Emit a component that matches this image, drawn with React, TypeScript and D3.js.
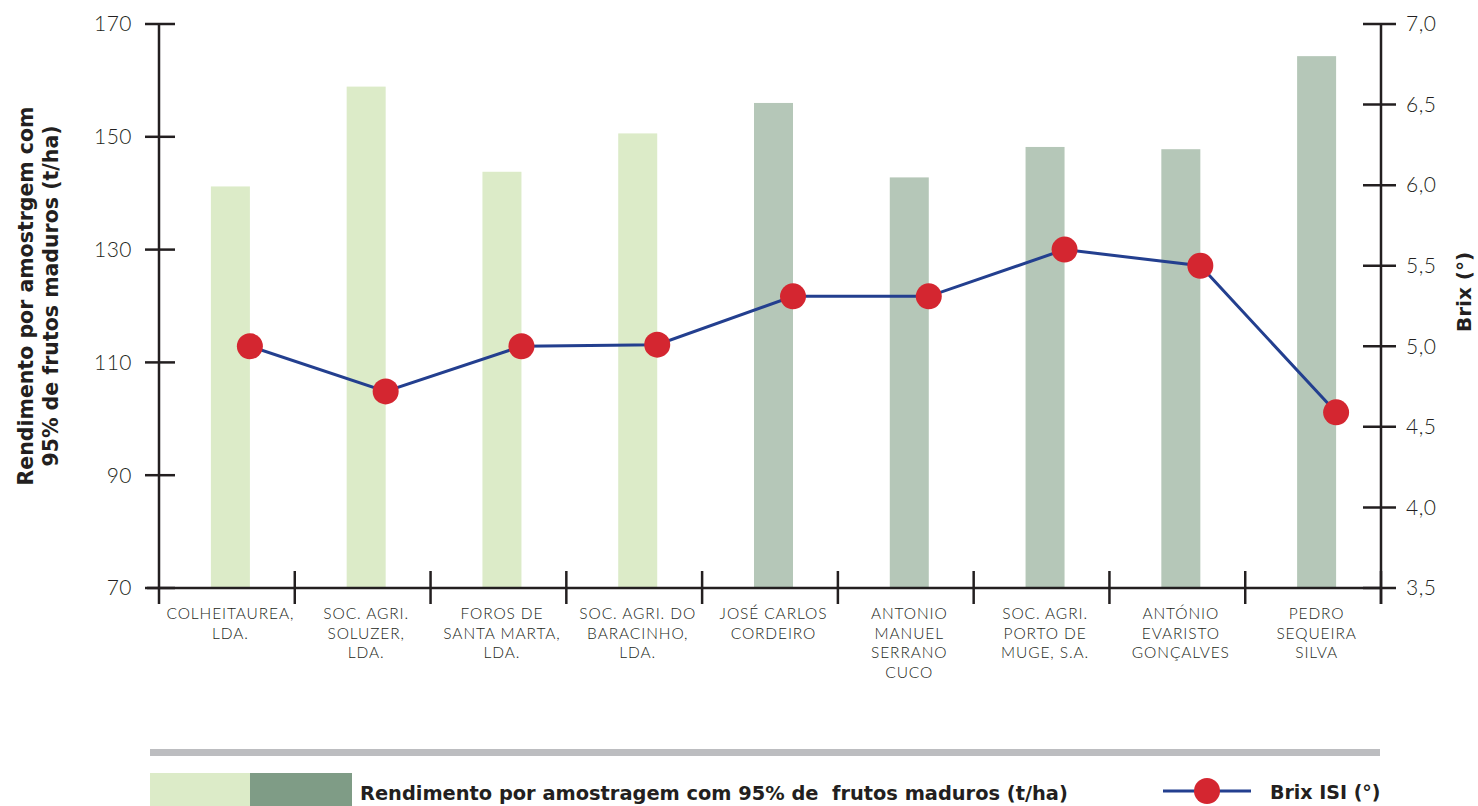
import * as d3 from "d3";
import { useEffect } from "react";

// categories (line-broken labels as in the source)
const categories: string[][] = [
    ["COLHEITAUREA,", "LDA."],
    ["SOC. AGRI.", "SOLUZER,", "LDA."],
    ["FOROS DE", "SANTA MARTA,", "LDA."],
    ["SOC. AGRI. DO", "BARACINHO,", "LDA."],
    ["JOSÉ CARLOS", "CORDEIRO"],
    ["ANTONIO", "MANUEL", "SERRANO", "CUCO"],
    ["SOC. AGRI.", "PORTO DE", "MUGE, S.A."],
    ["ANTÓNIO", "EVARISTO", "GONÇALVES"],
    ["PEDRO", "SEQUEIRA", "SILVA"],
];
const rendimento = [141.2, 158.9, 143.8, 150.6, 156.0, 142.8, 148.2, 147.8, 164.3];
const brix = [5.0, 4.72, 5.0, 5.01, 5.31, 5.31, 5.6, 5.5, 4.59];
const group = [0, 0, 0, 0, 1, 1, 1, 1, 1];
const leftTicks = [70, 90, 110, 130, 150, 170];
const rightTicks = [3.5, 4.0, 4.5, 5.0, 5.5, 6.0, 6.5, 7.0];

const barColors = ["#dcebc8", "#b5c7b8"];
const legendColors = ["#dcebc8", "#7f9c86"];
const ink = "#231f20";
const font = "Lato, 'Noto Sans', sans-serif";
const boldFont = "'DejaVu Sans', 'Noto Sans', sans-serif";

function App() {
    useEffect(() => {
        document.body.style.margin = "0";
    }, []);

    const width = 1478;
    const height = 806;
    const left = 159, right = 1381, top = 24, bottom = 588;

    const x = d3.scaleBand<number>().domain(d3.range(categories.length)).range([left, right]);
    const yL = d3.scaleLinear().domain([70, 170]).range([bottom, top]);
    const yR = d3.scaleLinear().domain([3.5, 7.0]).range([bottom, top]);
    const bw = 39;
    const barX = (i: number) => (x(i) as number) + x.bandwidth() / 2 - 16;
    const ptX = (i: number) => barX(i) + bw;

    const line = d3.line<number>().x((_, i) => ptX(i)).y(d => yR(d));
    const boundaries = d3.range(categories.length + 1).map(i => left + i * x.bandwidth());

    return (
        <svg width={width} height={height} style={{ display: "block", background: "#fff" }} fontFamily={font}>
            {/* bars */}
            {rendimento.map((v, i) => (
                <rect key={i} x={barX(i)} y={yL(v)} width={bw} height={bottom - yL(v)} fill={barColors[group[i]]} />
            ))}

            {/* left axis */}
            <line x1={left} x2={left} y1={top} y2={bottom + 16} stroke={ink} strokeWidth={2.5} />
            {leftTicks.map(t => (
                <g key={t}>
                    <line x1={left - 14} x2={left + 16} y1={yL(t)} y2={yL(t)} stroke={ink} strokeWidth={2.5} />
                    <text x={132} y={yL(t)} dy="0.35em" textAnchor="end" fontSize={21} fontWeight={300} fill={ink} letterSpacing={0.5}>{t}</text>
                </g>
            ))}

            {/* right axis */}
            <line x1={right} x2={right} y1={top} y2={bottom + 16} stroke={ink} strokeWidth={2.5} />
            {rightTicks.map(t => (
                <g key={t}>
                    <line x1={right - 18} x2={right + 15} y1={yR(t)} y2={yR(t)} stroke={ink} strokeWidth={2.5} />
                    <text x={1406} y={yR(t)} dy="0.35em" textAnchor="start" fontSize={21} fontWeight={300} fill={ink} letterSpacing={0.5}>
                        {t.toFixed(1).replace(".", ",")}
                    </text>
                </g>
            ))}

            {/* x axis */}
            <line x1={left - 12} x2={right} y1={bottom} y2={bottom} stroke={ink} strokeWidth={2.5} />
            {boundaries.slice(1).map((b, i) => (
                <line key={i} x1={b} x2={b} y1={bottom - 17} y2={bottom + 16} stroke={ink} strokeWidth={2.5} />
            ))}
            {categories.map((lines, i) => (
                <text key={i} x={barX(i) + bw / 2} y={614} textAnchor="middle" fontSize={15.5} fontWeight={300} fill={ink} letterSpacing={0.9}>
                    {lines.map((l, j) => (
                        <tspan key={j} x={barX(i) + bw / 2} dy={j === 0 ? "0.35em" : 19.5}>{l}</tspan>
                    ))}
                </text>
            ))}

            {/* brix line */}
            <path d={line(brix) || ""} fill="none" stroke="#233f8f" strokeWidth={3} />
            {brix.map((v, i) => (
                <circle key={i} cx={ptX(i)} cy={yR(v)} r={13} fill="#d42630" />
            ))}

            {/* axis titles */}
            <text transform="translate(26,296) rotate(-90)" textAnchor="middle" fontFamily={boldFont} fontSize={20.5} fontWeight={700} fill={ink}>
                <tspan x={0} dy="0.35em">Rendimento por amostrgem com</tspan>
                <tspan x={0} dy={25}>95% de frutos maduros (t/ha)</tspan>
            </text>
            <text transform="translate(1464,292) rotate(-90)" textAnchor="middle" dy="0.35em" fontFamily={boldFont} fontSize={20} fontWeight={700} fill={ink}>
                Brix (°)
            </text>

            {/* legend */}
            <rect x={150} y={749} width={1230} height={7} fill="#bcbdc0" />
            <rect x={150} y={773} width={100} height={40} fill={legendColors[0]} />
            <rect x={250} y={773} width={102} height={40} fill={legendColors[1]} />
            <text x={360} y={793} dy="0.35em" fontFamily={boldFont} fontSize={19.4} fontWeight={700} fill={ink} xmlSpace="preserve">
                Rendimento por amostragem com 95% de  frutos maduros (t/ha)
            </text>
            <line x1={1163} x2={1251} y1={791} y2={791} stroke="#233f8f" strokeWidth={3} />
            <circle cx={1207} cy={791} r={13} fill="#d42630" />
            <text x={1270} y={792} dy="0.35em" fontFamily={boldFont} fontSize={19} fontWeight={700} fill={ink}>Brix ISI (°)</text>
        </svg>
    );
}

export default App;
